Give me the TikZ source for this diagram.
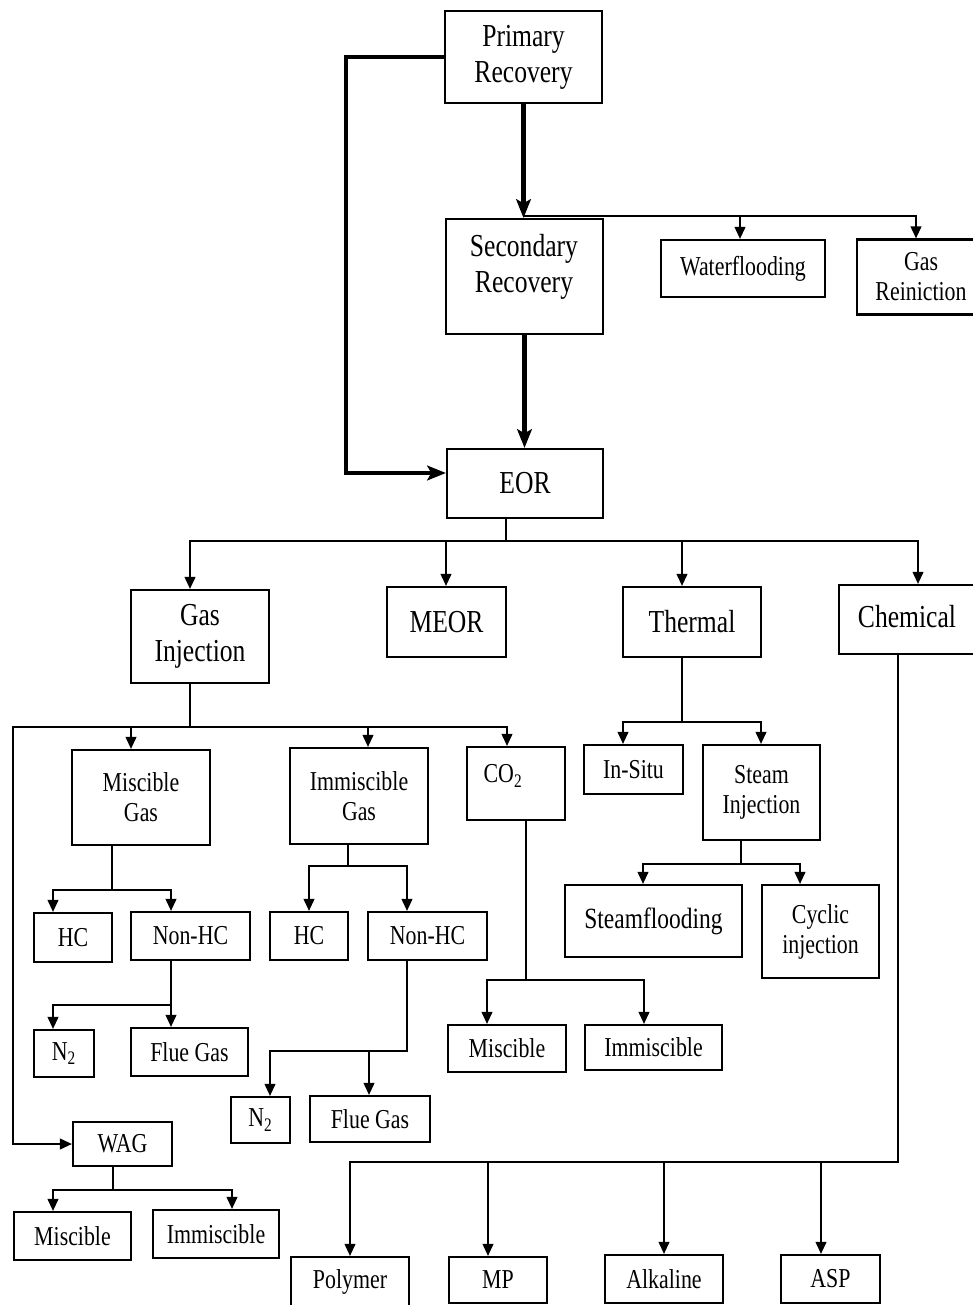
\documentclass[tikz,border=0pt]{standalone}
\usepackage{fontspec}
\setmainfont[FakeStretch=0.8]{Liberation Serif}
\usetikzlibrary{arrows.meta}
\begin{document}
\begin{tikzpicture}[x=0.75pt,y=-0.75pt,
  box/.style={draw, line width=1.6pt, inner sep=0pt, align=center},
  sz/.style 2 args={minimum width=#1*0.75pt, minimum height=#2*0.75pt},
  big/.style={font=\fontsize{24}{27}\selectfont},
  sml/.style={font=\fontsize{20.5}{22.5}\selectfont},
  mid/.style={font=\fontsize{22}{24}\selectfont},
  txt/.style={inner sep=0pt, align=center},
  ln/.style={line width=1.4pt, line cap=rect},
  arr/.style={line width=1.4pt, -{Triangle[length=9pt,width=8pt]}},
  tarr/.style={line width=3.2pt, -{Stealth[length=14pt,width=11pt,inset=3pt]}}]
\useasboundingbox (0,0) rectangle (973,1305);
\clip (0,0) rectangle (973,1305);

% ---- boxes ----
\node[box,big,sz={157}{92}] (prim) at (523.5,57) {Primary\\Recovery};
\node[box,sz={157}{115}] (sec) at (524.5,276.5) {};
\node[txt,big] (secT) at (524,267) {Secondary\\Recovery};
\node[box,sml,sz={164}{57}] (water) at (743,268.5) {Waterflooding};
\node[box,sml,sz={128}{75}] (gasre) at (921,277) {Gas\\Reiniction};
\node[box,big,sz={156}{69}] (eor) at (525,483.5) {EOR};

\node[box,big,sz={138}{93}] (gasinj) at (200,636.5) {Gas\\Injection};
\node[box,big,sz={119}{70}] (meor) at (446.5,622) {MEOR};
\node[box,big,sz={138}{70}] (thermal) at (692,622) {Thermal};
\node[box,sz={139}{69}] (chem) at (908.5,619.5) {};
\node[txt,big] (chemT) at (907,617) {Chemical};

\node[box,sml,sz={138}{95}] (misgas) at (141,797.5) {Miscible\\Gas};
\node[box,sml,sz={138}{96}] (immgas) at (359,796) {Immiscible\\Gas};
\node[box,sz={98}{73}] (co2) at (516,783.5) {};
\node[txt,sml] (co2T) at (503,776) {CO\textsubscript{2}};
\node[box,sml,sz={99}{49}] (insitu) at (633.5,769.5) {In-Situ};
\node[box,sml,sz={117}{95}] (steam) at (761.5,792.5) {Steam\\Injection};
\node[box,mid,sz={177}{72}] (steamfl) at (653.5,921) {Steamflooding};
\node[box,sml,sz={117}{93}] (cyclic) at (820.5,931.5) {Cyclic\\injection};

\node[box,sml,sz={78}{49}] (hc1) at (73,937.5) {HC};
\node[box,sml,sz={119}{48}] (nonhc1) at (190.5,936) {Non-HC};
\node[box,sml,sz={78}{48}] (hc2) at (309,936) {HC};
\node[box,sml,sz={119}{48}] (nonhc2) at (427.5,936) {Non-HC};
\node[box,sml,sz={118}{47}] (mis3) at (507,1048.5) {Miscible};
\node[box,sml,sz={137}{45}] (imm3) at (653.5,1047.5) {Immiscible};

\node[box,sml,sz={60}{47}] (n2a) at (64,1053.5) {N\textsubscript{2}};
\node[box,sml,sz={117}{48}] (flue1) at (189.5,1052) {Flue Gas};
\node[box,sml,sz={59}{46}] (n2b) at (260.5,1120) {N\textsubscript{2}};
\node[box,sml,sz={120}{46}] (flue2) at (370,1119) {Flue Gas};
\node[box,sml,sz={99}{44}] (wag) at (122.5,1144) {WAG};
\node[box,sml,sz={117}{48}] (misw) at (72.5,1236) {Miscible};
\node[box,sml,sz={126}{48}] (immw) at (216,1234) {Immiscible};

\node[box,sz={118}{55}] (poly) at (350,1284.5) {};
\node[txt,sml] (polyT) at (350,1282) {Polymer};
\node[box,sml,sz={98}{46}] (mp) at (498,1280) {MP};
\node[box,sml,sz={118}{48}] (alk) at (664,1279) {Alkaline};
\node[box,sml,sz={99}{48}] (asp) at (830.5,1279) {ASP};

% ---- main (thick) flow ----
\draw[tarr] (prim.south) -- (prim.south |- sec.north);
\draw[tarr] (sec.south) -- (sec.south |- eor.north);
\coordinate (pl) at (346,57);
\coordinate (el) at (346,473);
\draw[tarr, line join=miter] (prim.west |- pl) -- (pl) -- (el) -- (el -| eor.west);

% ---- secondary branches ----
\coordinate (sb) at (524,216);
\coordinate (wb) at (740,216);
\coordinate (gb) at (916,216);
\draw[ln] (sb) -- (gb);
\draw[arr] (wb) -- (wb |- water.north);
\draw[arr] (gb) -- (gb |- gasre.north);

% ---- EOR branches ----
\coordinate (e0) at (506,541);
\coordinate (e1) at (190,541);
\coordinate (e2) at (446,541);
\coordinate (e3) at (682,541);
\coordinate (e4) at (918,541);
\draw[ln] (eor.south -| e0) -- (e0);
\draw[ln] (e1) -- (e4);
\draw[arr] (e1) -- (e1 |- gasinj.north);
\draw[arr] (e2) -- (e2 |- meor.north);
\draw[arr] (e3) -- (e3 |- thermal.north);
\draw[arr] (e4) -- (e4 |- chem.north);

% ---- gas injection ----
\coordinate (g0) at (190,727);
\coordinate (gL) at (13,727);
\coordinate (g1) at (131,727);
\coordinate (g2) at (368,727);
\coordinate (g3) at (507,727);
\draw[ln] (gasinj.south -| g0) -- (g0);
\draw[ln] (gL) -- (g3);
\draw[arr] (g1) -- (g1 |- misgas.north);
\draw[arr] (g2) -- (g2 |- immgas.north);
\draw[arr] (g3) -- (g3 |- co2.north);
\draw[arr] (gL) -- (gL |- wag.west) -- (wag.west);

% ---- thermal ----
\coordinate (t0) at (682,722);
\coordinate (t1) at (623,722);
\coordinate (t2) at (761,722);
\draw[ln] (thermal.south -| t0) -- (t0);
\draw[ln] (t1) -- (t2);
\draw[arr] (t1) -- (t1 |- insitu.north);
\draw[arr] (t2) -- (t2 |- steam.north);

\coordinate (s0) at (741,864);
\coordinate (s1) at (643,864);
\coordinate (s2) at (800,864);
\draw[ln] (steam.south -| s0) -- (s0);
\draw[ln] (s1) -- (s2);
\draw[arr] (s1) -- (s1 |- steamfl.north);
\draw[arr] (s2) -- (s2 |- cyclic.north);

% ---- miscible gas ----
\coordinate (m0) at (112,890);
\coordinate (m1) at (53,890);
\coordinate (m2) at (171,890);
\draw[ln] (misgas.south -| m0) -- (m0);
\draw[ln] (m1) -- (m2);
\draw[arr] (m1) -- (m1 |- hc1.north);
\draw[arr] (m2) -- (m2 |- nonhc1.north);

% ---- immiscible gas ----
\coordinate (i0) at (348,866);
\coordinate (i1) at (309,866);
\coordinate (i2) at (407,866);
\draw[ln] (immgas.south -| i0) -- (i0);
\draw[ln] (i1) -- (i2);
\draw[arr] (i1) -- (i1 |- hc2.north);
\draw[arr] (i2) -- (i2 |- nonhc2.north);

% ---- CO2 ----
\coordinate (c0) at (526,980);
\coordinate (c1) at (487,980);
\coordinate (c2) at (644,980);
\draw[ln] (co2.south -| c0) -- (c0);
\draw[ln] (c1) -- (c2);
\draw[arr] (c1) -- (c1 |- mis3.north);
\draw[arr] (c2) -- (c2 |- imm3.north);

% ---- Non-HC (miscible) ----
\coordinate (n0) at (171,1005);
\coordinate (n1) at (53,1005);
\draw[ln] (nonhc1.south -| n0) -- (n0);
\draw[ln] (n1) -- (n0);
\draw[arr] (n0) -- (n0 |- flue1.north);
\draw[arr] (n1) -- (n1 |- n2a.north);

% ---- Non-HC (immiscible) ----
\coordinate (k0) at (407,1051);
\coordinate (k1) at (270,1051);
\coordinate (k2) at (369,1051);
\draw[ln] (nonhc2.south -| k0) -- (k0);
\draw[ln] (k1) -- (k0);
\draw[arr] (k1) -- (k1 |- n2b.north);
\draw[arr] (k2) -- (k2 |- flue2.north);

% ---- WAG ----
\coordinate (w0) at (113,1190);
\coordinate (w1) at (53,1190);
\coordinate (w2) at (232,1190);
\draw[ln] (wag.south -| w0) -- (w0);
\draw[ln] (w1) -- (w2);
\draw[arr] (w1) -- (w1 |- misw.north);
\draw[arr] (w2) -- (w2 |- immw.north);

% ---- Chemical ----
\coordinate (h0) at (898,1162);
\coordinate (h1) at (350,1162);
\coordinate (h2) at (488,1162);
\coordinate (h3) at (664,1162);
\coordinate (h4) at (821,1162);
\draw[ln] (chem.south -| h0) -- (h0);
\draw[ln] (h1) -- (h0);
\draw[arr] (h1) -- (h1 |- poly.north);
\draw[arr] (h2) -- (h2 |- mp.north);
\draw[arr] (h3) -- (h3 |- alk.north);
\draw[arr] (h4) -- (h4 |- asp.north);
\end{tikzpicture}
\end{document}
